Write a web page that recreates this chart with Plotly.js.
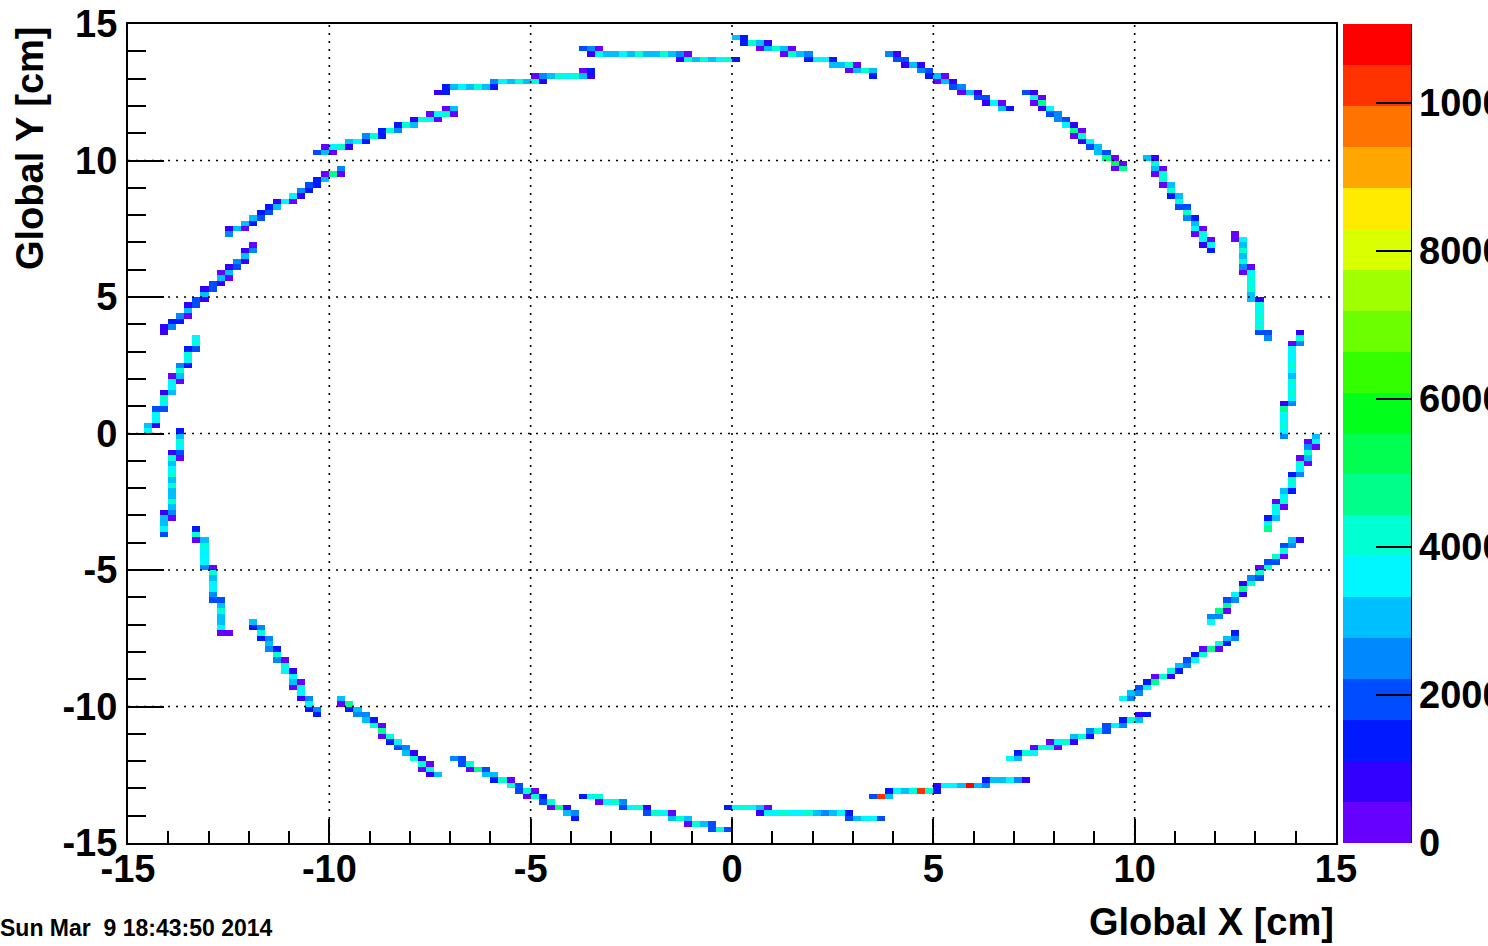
<!DOCTYPE html>
<html><head><meta charset="utf-8">
<script src="https://cdn.plot.ly/plotly-3.0.1.min.js"></script>
<style>html,body{margin:0;padding:0;background:#fff;}#plot{width:1488px;height:946px;}</style>
</head><body><div id="plot"></div>
<script>
// ---- histogram binning (150 x 150 bins, -15..15 cm) ----
const nBins = 150;
const binWidth = 0.2;
const axisMin = -15;
const zMax = 11068;

// axis tick labels (ROOT uses a plain hyphen as minus sign)
const axisTickVals = [-15, -10, -5, 0, 5, 10, 15];
const axisTickText = ['-15', '-10', '-5', '0', '5', '10', '15'];

// counts represented by each colour level (20 palette levels)
const levelCounts = [277, 830, 1384, 1937, 2490, 3044, 3597, 4151, 4704, 5257,
                     5811, 6364, 6918, 7471, 8024, 8578, 9131, 9684, 10238, 10791];

// colour-bar ticks
const cbTickVals = [0, 2000, 4000, 6000, 8000, 10000];
const cbTickText = ['0', '2000', '4000', '6000', '8000', '10000'];

// ROOT rainbow palette, 20 levels
const paletteColors = ['#6600ff','#3300ff','#0019ff','#004dff','#0088ff','#00bfff','#00f7ff','#00ffd2','#00ff8a','#00ff50',
                       '#00ff1a','#33ff00','#6cff00','#a0ff00','#daff00','#ffeb00','#ffa600','#ff7400','#ff3300','#ff0000'];

// Hit cells, one module per array: [yBin, firstXBin, level per cell ('r'=18, 'R'=19)]
const modA = [[145,56,'340'],[144,57,'1655657557540'],[143,68,'17575672']];
const modB = [[147,75,'52'],[146,76,'2751'],[145,78,'05750'],[144,81,'0754'],[143,84,'2662'],[142,87,'5570'],[141,89,'0575'],[140,92,'2']];
const modC = [[144,94,'41'],[143,95,'33'],[142,96,'151'],[141,98,'43'],[140,99,'250'],[139,100,'051'],[138,102,'34'],[137,103,'051'],[136,105,'33'],[135,106,'160'],[134,108,'52']];
const modD = [[137,111,'31'],[136,112,'70'],[135,112,'08'],[134,113,'16'],[133,114,'34'],[132,115,'43'],[131,116,'61'],[130,117,'80'],[129,117,'07'],[128,118,'16'],[127,119,'35'],[126,120,'53'],[125,121,'80'],[124,122,'90'],[123,122,'08']];
const modE = [[125,126,'51'],[124,127,'7'],[123,127,'50'],[122,127,'07'],[121,128,'7'],[120,128,'05'],[119,129,'7'],[118,129,'25'],[117,130,'7'],[116,130,'33'],[115,131,'7'],[114,131,'42'],[113,132,'5'],[112,132,'60'],[111,132,'07'],[110,133,'60'],[109,133,'16'],[108,134,'2']];
const modF = [[111,137,'0'],[110,137,'06'],[109,138,'5'],[108,138,'7'],[107,138,'5'],[106,138,'7'],[105,138,'40'],[104,138,'06'],[103,139,'7'],[102,139,'6'],[101,139,'7'],[100,139,'5'],[99,139,'51'],[98,140,'7'],[97,140,'6'],[96,140,'7'],[95,140,'6'],[94,140,'7'],[93,140,'33'],[92,141,'4']];
const modG = [[93,145,'1'],[92,145,'7'],[91,144,'04'],[90,144,'6'],[89,144,'6'],[88,144,'6'],[87,144,'7'],[86,144,'6'],[85,144,'5'],[84,144,'7'],[83,144,'6'],[82,144,'7'],[81,144,'6'],[80,143,'14'],[79,143,'8'],[78,143,'6'],[77,143,'6'],[76,143,'7'],[75,143,'6'],[74,143,'4']];
const modH = [[74,147,'5'],[73,146,'06'],[72,146,'40'],[71,146,'7'],[70,145,'05'],[69,145,'70'],[68,145,'6'],[67,144,'24'],[66,144,'7'],[65,144,'6'],[64,143,'52'],[63,143,'6'],[62,142,'07'],[61,142,'70'],[60,142,'6'],[59,141,'25'],[58,141,'6'],[57,141,'8']];
const modI = [[55,144,'51'],[54,143,'34'],[53,143,'7'],[52,142,'70'],[51,141,'33'],[50,140,'07'],[49,140,'7'],[48,139,'43'],[47,138,'17'],[46,138,'8'],[45,137,'61'],[44,136,'34'],[43,136,'8'],[42,135,'80'],[41,134,'44'],[40,134,'6']];
const modJ = [[38,137,'2'],[37,136,'54'],[36,135,'72'],[35,133,'080'],[34,132,'27'],[33,131,'36'],[32,130,'54'],[31,129,'72'],[30,127,'071'],[29,126,'28'],[28,125,'36'],[27,124,'54'],[26,123,'64']];
const modK = [[23,125,'12'],[22,123,'275'],[21,121,'364'],[20,119,'473'],[19,117,'572'],[18,114,'0671'],[17,112,'0770'],[16,110,'276'],[15,109,'65']];
const modL = [[11,106,'255641'],[10,100,'1665R54'],[9,94,'2657r72'],[8,92,'3r5']];
const modM = [[6,74,'267650'],[5,78,'166766754562'],[4,89,'35663']];
const modN = [[8,56,'267'],[7,58,'0674'],[6,61,'3671'],[5,64,'3760'],[4,67,'575'],[3,69,'0753'],[2,72,'373']];
const modO = [[15,40,'43'],[14,41,'37'],[13,42,'083'],[12,44,'55'],[11,45,'270'],[10,47,'73'],[9,48,'370'],[8,49,'072'],[7,51,'37'],[6,52,'081'],[5,54,'54'],[4,55,'2']];
const modP = [[26,26,'5'],[25,26,'08'],[24,27,'25'],[23,28,'44'],[22,29,'52'],[21,30,'70'],[20,31,'8'],[19,31,'07'],[18,32,'26'],[17,33,'34'],[16,34,'51'],[15,35,'71'],[14,36,'70'],[13,36,'07'],[12,37,'15']];
const modQ = [[40,15,'5'],[39,15,'24'],[38,16,'7'],[37,16,'24'],[36,17,'5'],[35,17,'42'],[34,18,'7'],[33,18,'40'],[32,19,'7'],[31,19,'61'],[30,20,'6'],[29,20,'50'],[28,20,'06'],[27,21,'6'],[26,21,'14'],[25,22,'6'],[24,22,'24'],[23,23,'2']];
const modR = [[57,8,'2'],[56,8,'7'],[55,8,'05'],[54,9,'7'],[53,9,'6'],[52,9,'6'],[51,9,'6'],[50,9,'40'],[49,10,'7'],[48,10,'5'],[47,10,'6'],[46,10,'6'],[45,10,'4'],[44,10,'33'],[43,11,'5'],[42,11,'7'],[41,11,'5'],[40,11,'5'],[39,11,'6'],[38,11,'00']];
const modS = [[75,6,'2'],[74,6,'5'],[73,6,'7'],[72,6,'6'],[71,5,'13'],[70,5,'70'],[69,5,'5'],[68,5,'6'],[67,5,'7'],[66,5,'5'],[65,5,'7'],[64,5,'5'],[63,5,'5'],[62,5,'7'],[61,5,'5'],[60,4,'14'],[59,4,'50'],[58,4,'5'],[57,4,'6'],[56,4,'3']];
const modT = [[92,8,'6'],[91,8,'7'],[90,7,'23'],[89,7,'7'],[88,7,'6'],[87,6,'42'],[86,6,'7'],[85,5,'05'],[84,5,'60'],[83,5,'6'],[82,4,'15'],[81,4,'7'],[80,4,'6'],[79,3,'33'],[78,3,'6'],[77,3,'6'],[76,2,'51'],[75,2,'6']];
const modU = [[109,15,'0'],[108,14,'14'],[107,14,'5'],[106,13,'41'],[105,12,'13'],[104,11,'05'],[103,11,'50'],[102,10,'31'],[101,9,'13'],[100,9,'5'],[99,8,'31'],[98,7,'13'],[97,7,'5'],[96,6,'40'],[95,5,'22'],[94,4,'14'],[93,4,'1']];
const modV = [[123,26,'4'],[122,24,'080'],[121,23,'25'],[120,22,'32'],[119,21,'42'],[118,20,'61'],[117,18,'160'],[116,17,'25'],[115,16,'23'],[114,15,'53'],[113,14,'52'],[112,12,'150'],[111,12,'4']];
const modW = [[134,39,'05'],[133,37,'0670'],[132,35,'1760'],[131,33,'275'],[130,31,'274'],[129,29,'472'],[128,27,'562'],[127,24,'0671'],[126,23,'350']];
const modX = [[141,56,'02'],[140,50,'04576751'],[139,45,'4657571'],[138,39,'2565752'],[137,38,'12']];

const modules = [modA,modB,modC,modD,modE,modF,modG,modH,modI,modJ,modK,modL,modM,modN,modO,modP,modQ,modR,modS,modT,modU,modV,modW,modX];

function levelOf(ch){ return ch === 'r' ? 18 : (ch === 'R' ? 19 : parseInt(ch, 10)); }

const z = [];
for (let j = 0; j < nBins; j++) z.push(new Array(nBins).fill(null));
modules.forEach(mod => mod.forEach(([iy, ix0, lv]) => {
  for (let k = 0; k < lv.length; k++) z[iy][ix0 + k] = levelCounts[levelOf(lv[k])];
}));

const colorscale = [];
paletteColors.forEach((c, i) => { colorscale.push([i / 20, c]); colorscale.push([(i + 1) / 20, c]); });

const FONT = 'Liberation Sans, Arial, Helvetica, sans-serif';
const bigFont = {family: FONT, size: 38, color: '#000', weight: 700};

const trace = {
  type: 'heatmap', z: z,
  x0: axisMin + binWidth / 2, dx: binWidth, y0: axisMin + binWidth / 2, dy: binWidth,
  zmin: 0, zmax: zMax, zsmooth: false, colorscale: colorscale, hoverongaps: false,
  colorbar: {
    thickness: 68, thicknessmode: 'pixels', len: 1, lenmode: 'fraction',
    x: 1.0058, xanchor: 'left', y: 0.5, yanchor: 'middle', xpad: 0, ypad: 0,
    outlinewidth: 0, tickmode: 'array', tickvals: cbTickVals, ticktext: cbTickText,
    ticks: 'inside', ticklen: 35, tickwidth: 2, tickcolor: '#000',
    tickfont: bigFont
  }
};

const gridVals = [-10, -5, 0, 5, 10];
const shapes = [];
gridVals.forEach(v => {
  shapes.push({type: 'line', xref: 'x', yref: 'paper', x0: v, x1: v, y0: 0, y1: 1, layer: 'above',
               line: {color: '#000', width: 1.6, dash: '2px,6px'}});
  shapes.push({type: 'line', xref: 'paper', yref: 'y', x0: 0, x1: 1, y0: v, y1: v, layer: 'above',
               line: {color: '#000', width: 1.6, dash: '2px,6px'}});
});
// right-hand axis line of the colour bar
shapes.push({type: 'line', xref: 'paper', yref: 'paper', x0: 1.0621, x1: 1.0621, y0: 0, y1: 1,
             line: {color: '#000', width: 2}});

const axisCommon = {
  range: [-15, 15], tickmode: 'array', tickvals: axisTickVals, ticktext: axisTickText,
  ticks: 'inside', tickwidth: 2, tickcolor: '#000',
  showline: true, linecolor: '#000', linewidth: 2, mirror: true,
  showgrid: false, zeroline: false, tickfont: bigFont, fixedrange: true
};

const layout = {
  width: 1488, height: 946,
  margin: {l: 128, r: 152, t: 24, b: 103, pad: 0, autoexpand: false},
  paper_bgcolor: '#fff', plot_bgcolor: '#fff',
  xaxis: Object.assign({}, axisCommon, {ticklen: 24, ticklabelstandoff: -9,
    minor: {tickmode: 'linear', tick0: 0, dtick: 1, ticks: 'inside', ticklen: 12, tickwidth: 2, tickcolor: '#000', showgrid: false}}),
  yaxis: Object.assign({}, axisCommon, {ticklen: 36, ticklabelstandoff: 1,
    minor: {tickmode: 'linear', tick0: 0, dtick: 1, ticks: 'inside', ticklen: 18, tickwidth: 2, tickcolor: '#000', showgrid: false}}),
  shapes: shapes,
  annotations: [
    {text: 'Global X [cm]', xref: 'paper', yref: 'paper', x: 1, xanchor: 'right', y: -0.0965, yanchor: 'middle',
     showarrow: false, font: bigFont},
    {text: 'Global Y [cm]', xref: 'paper', yref: 'paper', x: -0.0811, xanchor: 'center', y: 1, yanchor: 'top',
     textangle: -90, showarrow: false, font: bigFont},
    {text: 'Sun Mar\u00a0 9 18:43:50 2014', xref: 'paper', yref: 'paper', x: -0.1076, xanchor: 'left', y: -0.1038,
     yanchor: 'middle', showarrow: false, font: {family: FONT, size: 23, color: '#000', weight: 700}}
  ],
  showlegend: false
};

Plotly.newPlot('plot', [trace], layout, {displayModeBar: false, staticPlot: true});
</script>
</body></html>
